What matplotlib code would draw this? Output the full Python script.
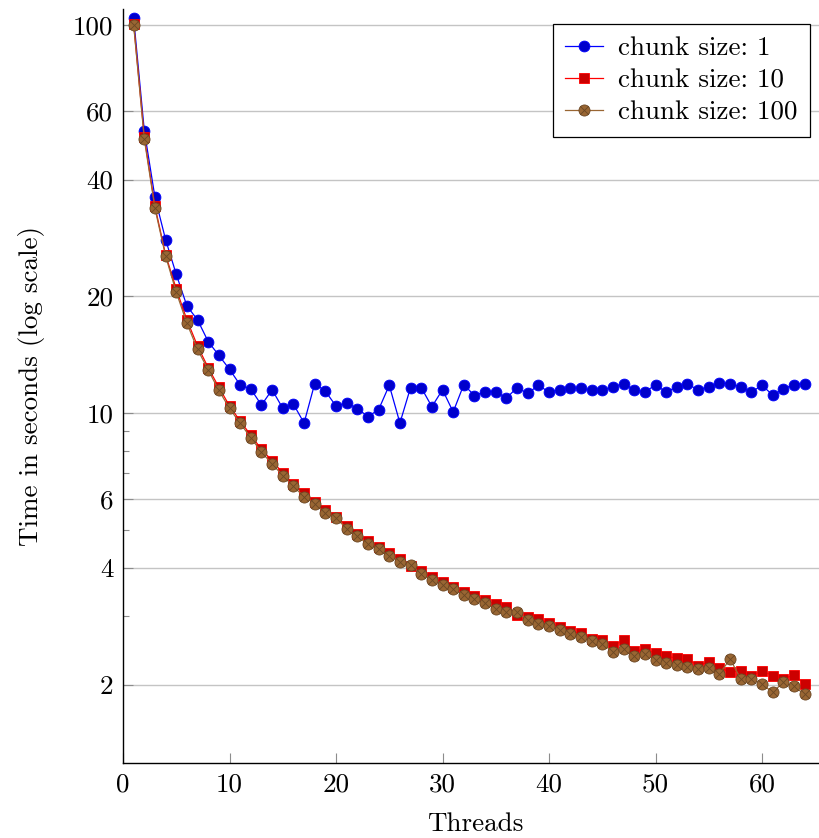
import numpy as np
import matplotlib
matplotlib.use("Agg")
import matplotlib.pyplot as plt
from matplotlib.path import Path
from matplotlib.ticker import FixedLocator, FixedFormatter, NullFormatter

plt.rcParams['font.family'] = ['cmr10', 'DejaVu Serif']
plt.rcParams['mathtext.fontset'] = 'cm'
plt.rcParams['axes.formatter.use_mathtext'] = True

# Daten
threads = list(range(1, 65))

chunk_1 = [104.0, 53.4, 36.0, 28.0, 22.8, 18.9, 17.4, 15.3, 14.1, 12.98,
           11.83, 11.55, 10.5, 11.5, 10.3, 10.56, 9.44, 11.93, 11.4, 10.44,
           10.65, 10.28, 9.81, 10.22, 11.81, 9.44, 11.65, 11.65, 10.4, 11.5,
           10.08, 11.86, 11.1, 11.38, 11.38, 10.94, 11.65, 11.25, 11.81, 11.34,
           11.5, 11.65, 11.59, 11.47, 11.47, 11.72, 11.91, 11.5, 11.34, 11.84,
           11.34, 11.7, 11.88, 11.5, 11.7, 11.95, 11.93, 11.68, 11.34, 11.81,
           11.14, 11.56, 11.86, 11.91]

chunk_10 = [100.5, 51.4, 34.1, 25.6, 20.9, 17.4, 14.9, 13.1, 11.67, 10.45,
            9.55, 8.78, 8.08, 7.55, 7.02, 6.58, 6.22, 5.92, 5.63, 5.42,
            5.13, 4.90, 4.68, 4.52, 4.36, 4.21, 4.05, 3.92, 3.78, 3.67,
            3.57, 3.46, 3.38, 3.30, 3.22, 3.17, 3.02, 2.98, 2.95, 2.88,
            2.82, 2.75, 2.71, 2.63, 2.60, 2.52, 2.60, 2.44, 2.47, 2.41,
            2.37, 2.34, 2.33, 2.24, 2.29, 2.21, 2.16, 2.17, 2.11, 2.17,
            2.11, 2.07, 2.12, 2.01]

chunk_100 = [100.0, 50.8, 33.7, 25.4, 20.5, 17.06, 14.6, 12.93, 11.45, 10.3,
             9.42, 8.66, 7.94, 7.41, 6.91, 6.48, 6.10, 5.85, 5.53, 5.37,
             5.05, 4.82, 4.60, 4.46, 4.30, 4.15, 4.07, 3.85, 3.72, 3.61,
             3.52, 3.40, 3.32, 3.24, 3.13, 3.08, 3.08, 2.93, 2.86, 2.83,
             2.77, 2.70, 2.65, 2.59, 2.55, 2.43, 2.47, 2.37, 2.40, 2.31,
             2.27, 2.25, 2.22, 2.19, 2.21, 2.13, 2.33, 2.07, 2.07, 2.01,
             1.91, 2.03, 1.98, 1.89]

y_major = [2, 4, 6, 10, 20, 40, 60, 100]
y_minor = [3, 5, 7, 8, 9]
x_major = [0, 10, 20, 30, 40, 50, 60]

# Kreis mit Kreuz (wie otimes*)
d = np.sqrt(0.5)
otimes = Path.make_compound_path(
    Path.unit_circle(),
    Path([[-d, -d], [d, d]]),
    Path([[-d, d], [d, -d]]),
)

fig = plt.figure(figsize=(8.19, 8.38), dpi=100)
ax = fig.add_axes([0.1502, 0.0895, 0.8498, 0.8998])

ax.plot(threads, chunk_1, color=(0, 0, 1), lw=0.9, marker='o', ms=7.8,
        mfc=(0, 0, 0.8), mec=(0, 0, 1), mew=0.6, label='chunk size: 1', zorder=3)
ax.plot(threads, chunk_10, color=(1, 0, 0), lw=0.9, marker='s', ms=7.2,
        mfc=(0.8, 0, 0), mec=(1, 0, 0), mew=0.6, label='chunk size: 10', zorder=4)
ax.plot(threads, chunk_100, color=(0.6, 0.4, 0.2), lw=0.9, marker=otimes, ms=8,
        mfc=(0.6, 0.4, 0.2), mec=(0.42, 0.28, 0.14), mew=0.6,
        label='chunk size: 100', zorder=5)

ax.set_yscale('log')
ax.set_ylim(1.257, 110)
ax.set_xlim(0, 65.35)

ax.yaxis.set_major_locator(FixedLocator(y_major))
ax.yaxis.set_major_formatter(FixedFormatter([str(v) for v in y_major]))
ax.yaxis.set_minor_locator(FixedLocator(y_minor))
ax.yaxis.set_minor_formatter(NullFormatter())
ax.xaxis.set_major_locator(FixedLocator(x_major))
ax.xaxis.set_major_formatter(FixedFormatter([str(v) for v in x_major]))

ax.grid(True, axis='y', which='major', color='#c4c4c4', lw=1.0)
ax.set_axisbelow(True)

ax.tick_params(axis='both', which='major', direction='in', length=7,
               width=0.8, color='#8c8c8c', labelsize=19.5, pad=7)
ax.tick_params(axis='y', which='minor', direction='in', length=4,
               width=0.8, color='#8c8c8c')
ax.tick_params(axis='x', which='minor', bottom=False)

for s in ['top', 'right']:
    ax.spines[s].set_visible(False)
for s in ['left', 'bottom']:
    ax.spines[s].set_linewidth(1.0)

ax.set_xlabel('Threads', fontsize=19.5)
ax.set_ylabel('Time in seconds (log scale)', fontsize=19.5)
ax.xaxis.set_label_coords(0.506, -0.066)
ax.yaxis.set_label_coords(-0.112, 0.5)

leg = ax.legend(loc='upper right', bbox_to_anchor=(0.987, 0.98), fontsize=19.5,
                frameon=True, fancybox=False, edgecolor='black', framealpha=1,
                handlelength=1.4, handletextpad=0.55, labelspacing=0.3,
                borderpad=0.45, borderaxespad=0)
leg.get_frame().set_linewidth(0.9)

fig.savefig('out.png', dpi=100)
